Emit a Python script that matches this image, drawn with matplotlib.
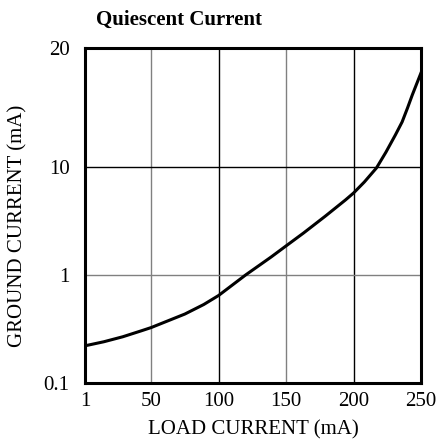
import numpy as np
import matplotlib
matplotlib.use('Agg')
import matplotlib.pyplot as plt

# load current (mA) vs ground current (mA)
load_ma = [1, 15, 29, 43, 50, 75, 89, 100, 120, 139, 149, 163, 179, 194, 200,
           208, 217, 224, 231, 236, 240, 243.5, 247, 250]
ground_ma = [0.221, 0.241, 0.268, 0.305, 0.326, 0.435, 0.533, 0.646, 1.0, 1.47,
             1.82, 2.45, 3.5, 4.95, 5.74, 7.26, 9.8, 10.9, 12.05, 13.0, 14.1,
             15.2, 16.3, 17.3]

x_ticks = [1, 50, 100, 150, 200, 250]
y_ticks = [0.1, 1, 10, 20]
y_labels = ['0.1', '1', '10', '20']

# the datasheet axis: log decades up to 10, then a stretched 10..20 segment
K = 119 / 108


def fwd(y):
    y = np.maximum(np.asarray(y, dtype=float), 1e-12)
    return np.where(y <= 10, np.log10(y), 1 + np.log10(y / 10) / np.log10(2) * K)


def inv(p):
    p = np.asarray(p, dtype=float)
    return np.where(p <= 1, 10 ** p, 10 * 2 ** ((p - 1) / K))


plt.rcParams['font.family'] = ['Liberation Serif', 'DejaVu Serif']
FS = 15

fig = plt.figure(figsize=(4.38, 4.43), dpi=100)
ax = fig.add_axes([85 / 438, 1 - 383 / 443, 336 / 438, 335 / 443])

ax.set_yscale('function', functions=(fwd, inv))
ax.set_xlim(1, 250)
ax.set_ylim(0.1, 20)

ax.set_xticks(x_ticks)
ax.set_xticklabels([str(v) for v in x_ticks])
ax.set_yticks(y_ticks)
ax.set_yticklabels(y_labels)
ax.minorticks_off()
ax.tick_params(length=0, labelsize=FS)
ax.tick_params(axis='x', pad=6.5)
ax.tick_params(axis='y', pad=11)

# grid lines, alternating grey and black like the original
for xv, c in zip(x_ticks[1:-1], ['#808080', 'black', '#808080', 'black']):
    ax.axvline(xv, color=c, lw=1.0, zorder=1)
ax.axhline(1, color='#808080', lw=1.0, zorder=1)
ax.axhline(10, color='black', lw=1.0, zorder=1)

ax.plot(load_ma, ground_ma, color='black', lw=2.2, zorder=3,
        solid_joinstyle='round')

for s in ax.spines.values():
    s.set_linewidth(2.2)

ax.set_xlabel('LOAD CURRENT (mA)', fontsize=FS, va='top')
ax.xaxis.set_label_coords(0.5, -0.112)
ax.set_ylabel('GROUND CURRENT (mA)', fontsize=FS)
ax.yaxis.set_label_coords(-0.17, 0.47)
fig.text(96 / 438, 1 - 25 / 443, 'Quiescent Current', fontsize=FS,
         fontweight='bold', ha='left', va='baseline')

fig.savefig('out.png', dpi=100)
